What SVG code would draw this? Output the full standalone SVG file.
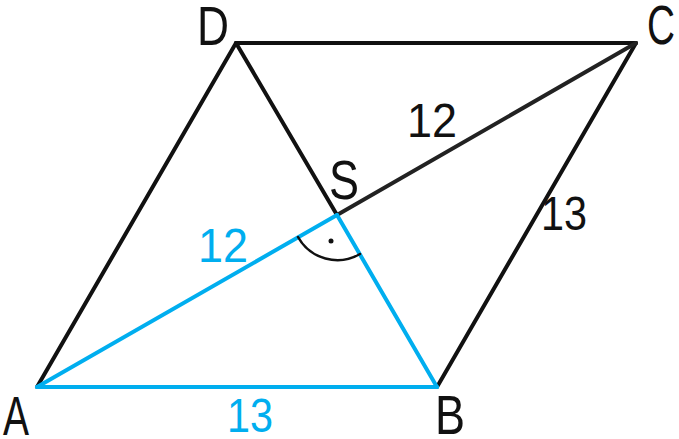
<svg xmlns="http://www.w3.org/2000/svg" width="679" height="439" viewBox="0 0 679 439">
<style>
.k{stroke:#111;stroke-width:4;fill:none;stroke-linecap:round;stroke-linejoin:round}
.b{stroke:#00aeef;stroke-width:4;fill:none;stroke-linecap:round;stroke-linejoin:round}
.t{font-family:"Liberation Sans",Arial,sans-serif;fill:#111}
.tb{font-family:"Liberation Sans",Arial,sans-serif;fill:#00aeef}
.lab{font-size:56px}
.num{font-size:48px}
</style>
<rect width="679" height="439" fill="#fff"/>
<g id="connectors">
<line class="k" x1="37" y1="387" x2="236" y2="43"/>
<line class="k" x1="236" y1="43" x2="636" y2="43"/>
<line class="k" x1="636" y1="43" x2="437" y2="387"/>
<line class="k" x1="236" y1="43" x2="337" y2="215"/>
<line class="k" x1="337" y1="215" x2="636" y2="43" style="stroke:#222"/>
<line class="b" x1="37" y1="387" x2="437" y2="387"/>
<line class="b" x1="37" y1="387" x2="337" y2="215"/>
<line class="b" x1="337" y1="215" x2="437" y2="387"/>
</g>
<g id="angle">
<path d="M298 237 A45 45 0 0 0 360 254" fill="none" stroke="#111" stroke-width="2.5" stroke-linecap="round"/>
<circle cx="331" cy="241" r="2.5" fill="#111"/>
</g>
<g id="A"><text class="t lab" x="3" y="435" textLength="26" lengthAdjust="spacingAndGlyphs">A</text></g>
<g id="B"><text class="t lab" x="435" y="434" textLength="30" lengthAdjust="spacingAndGlyphs">B</text></g>
<g id="C"><text class="t lab" x="647" y="44" textLength="28" lengthAdjust="spacingAndGlyphs">C</text></g>
<g id="D"><text class="t lab" x="197" y="45" textLength="32" lengthAdjust="spacingAndGlyphs">D</text></g>
<g id="S"><text class="t lab" x="329" y="199" textLength="30" lengthAdjust="spacingAndGlyphs">S</text></g>
<g id="labels">
<text class="t num" x="407" y="137" textLength="50" lengthAdjust="spacingAndGlyphs">12</text>
<text class="t num" x="541" y="230" textLength="46" lengthAdjust="spacingAndGlyphs">13</text>
<text class="tb num" x="198" y="262" textLength="50" lengthAdjust="spacingAndGlyphs">12</text>
<text class="tb num" x="227" y="432" textLength="46" lengthAdjust="spacingAndGlyphs">13</text>
</g>
</svg>
